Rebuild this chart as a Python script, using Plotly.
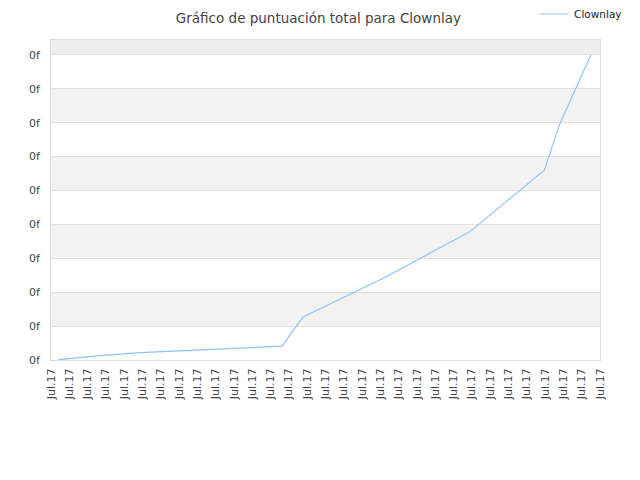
import plotly.graph_objects as go

# Data (y-axis labels are all "0f" in the original)
dates = [
    "2017-07-01 10:00", "2017-07-03 16:30", "2017-07-05 21:00", "2017-07-08 01:00",
    "2017-07-10 06:00", "2017-07-12 10:00", "2017-07-13 15:00", "2017-07-14 18:00",
    "2017-07-19 07:00", "2017-07-23 21:00", "2017-07-27 23:00", "2017-07-28 19:00",
    "2017-07-30 12:00",
]
scores = [0.01, 0.127, 0.215, 0.274, 0.32, 0.39, 0.41, 1.26, 2.45, 3.78, 5.60, 6.95, 9.0]
series_name = "Clownlay"
title_text = "Gráfico de puntuación total para Clownlay"
y_tick_values = list(range(0, 10))
y_tick_labels = ["0f"] * len(y_tick_values)
x_range = ["2017-07-01", "2017-07-31"]
y_max = 9.44

fig = go.Figure()
fig.add_trace(go.Scatter(
    x=dates, y=scores, mode="lines", name=series_name,
    line=dict(color="#90c3f4", width=1.2),
))

# alternating bands
shapes = []
for k in y_tick_values:
    if k % 2 == 1:
        shapes.append(dict(type="rect", xref="paper", yref="y", x0=0, x1=1,
                           y0=k, y1=min(k + 1, y_max), fillcolor="#f2f2f2",
                           line=dict(width=0), layer="below"))
shapes.append(dict(type="rect", xref="paper", yref="y", x0=0, x1=1,
                   y0=y_tick_values[-1], y1=y_max, fillcolor="#eeeeee",
                   line=dict(width=0), layer="below"))

fig.update_layout(
    width=640, height=480,
    margin=dict(l=43, r=48, t=32, b=128, autoexpand=False),
    paper_bgcolor="white", plot_bgcolor="white",
    font=dict(family="DejaVu Sans", size=11, color="#444"),
    title=dict(text=title_text, x=0.485, xanchor="center", y=0.979, yanchor="middle",
               xref="container", yref="container",
               font=dict(family="DejaVu Sans", size=13.5, color="#444")),
    showlegend=True,
    legend=dict(x=0.822, xanchor="left", y=0.9875, yanchor="middle",
                xref="container", yref="container",
                font=dict(family="DejaVu Sans", size=10.5, color="#222"),
                bgcolor="rgba(0,0,0,0)"),
    shapes=shapes,
    xaxis=dict(type="date", range=x_range, dtick=86400000, tick0="2017-07-01",
               tickformat="%b.%y", tickangle=-90, showgrid=False,
               showline=True, linecolor="#dddddd", mirror=True,
               ticks="outside", ticklen=3, tickcolor="rgba(0,0,0,0)",
               tickfont=dict(size=11, color="#444"), zeroline=False),
    yaxis=dict(range=[0, y_max], tickvals=y_tick_values, ticktext=y_tick_labels,
               showgrid=True, gridcolor="#e0e0e0", gridwidth=1,
               showline=True, linecolor="#dddddd", mirror=True,
               ticks="outside", ticklen=8, tickcolor="rgba(0,0,0,0)",
               tickfont=dict(size=11, color="#444"), zeroline=False),
)

fig.write_html("out.html")
